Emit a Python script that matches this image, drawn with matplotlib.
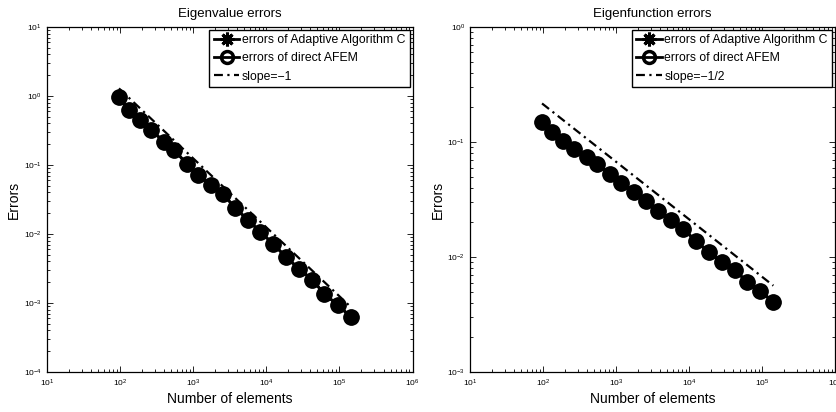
import math

import matplotlib
matplotlib.use('Agg')
import matplotlib.pyplot as plt
from matplotlib.ticker import LogLocator, FuncFormatter, NullFormatter

plt.rcParams['font.family'] = ['Liberation Sans', 'DejaVu Sans']
plt.rcParams['mathtext.default'] = 'regular'

# Number of elements at each adaptive step (shared by both panels).
n_elements = [97, 132, 187, 270, 400, 555, 820, 1160, 1750, 2550,
              3780, 5600, 8300, 12500, 18500, 28350, 42700, 62200, 95000, 143000]

# Eigenvalue errors.
eigval_alg_c = [0.97, 0.63, 0.449, 0.321, 0.216, 0.165, 0.103, 0.0716, 0.0513, 0.038,
                0.0238, 0.0160, 0.0107, 0.00716, 0.00464, 0.00311, 0.00216, 0.00135,
                0.000935, 0.000627]
eigval_direct = [0.97, 0.63, 0.449, 0.321, 0.216, 0.165, 0.103, 0.0716, 0.0513, 0.038,
                 0.0238, 0.0160, 0.0107, 0.00716, 0.00464, 0.00311, 0.00216, 0.00135,
                 0.000935, 0.000627]

# Eigenfunction errors.
eigfun_alg_c = [0.149, 0.122, 0.102, 0.0869, 0.0741, 0.0644, 0.0527, 0.0440, 0.0367,
                0.0307, 0.0251, 0.0210, 0.0175, 0.0138, 0.0110, 0.00905, 0.00771,
                0.00607, 0.00506, 0.00406]
eigfun_direct = [0.149, 0.122, 0.102, 0.0869, 0.0741, 0.0644, 0.0527, 0.0440, 0.0367,
                 0.0307, 0.0251, 0.0210, 0.0175, 0.0138, 0.0110, 0.00905, 0.00771,
                 0.00607, 0.00506, 0.00406]

# Reference slopes: c * N^p.
eigval_slope = (125.0, -1.0)
eigfun_slope = (2.13, -0.5)

legend_labels = ['errors of Adaptive Algorithm C', 'errors of direct AFEM']

# MATLAB-like '*' marker: four crossing strokes.
ASTERISK = (8, 2, 0)


def pow10(v, pos):
    return r'$10^{%d}$' % round(math.log10(v))


def plot_panel(ax, alg_c, direct, slope, slope_label, title, ylim):
    c, p = slope
    ref = [c * n ** p for n in n_elements]

    ax.plot(n_elements, alg_c, color='black', linewidth=2, marker=ASTERISK,
            markersize=11, markeredgewidth=2.2, label=legend_labels[0])
    ax.plot(n_elements, direct, color='black', linewidth=2, marker='o',
            markersize=9.5, markerfacecolor='none', markeredgewidth=2.5,
            label=legend_labels[1])
    ax.plot(n_elements, ref, color='black', linewidth=1.6,
            linestyle=(0, (4, 2, 1, 2)), label=slope_label)

    ax.set_xscale('log')
    ax.set_yscale('log')
    ax.set_xlim(10, 1e6)
    ax.set_ylim(*ylim)

    for axis in (ax.xaxis, ax.yaxis):
        axis.set_major_locator(LogLocator(base=10, numticks=20))
        axis.set_minor_locator(LogLocator(base=10, subs=range(2, 10), numticks=20))
        axis.set_major_formatter(FuncFormatter(pow10))
        axis.set_minor_formatter(NullFormatter())
    ax.tick_params(which='both', direction='in', top=True, right=True,
                   labelsize=6, width=0.6, color='black')
    ax.tick_params(which='major', length=4)
    ax.tick_params(which='minor', length=2)
    ax.tick_params(axis='x', pad=4)
    for side in ax.spines.values():
        side.set_linewidth(0.9)

    ax.set_title(title, fontsize=9.5, pad=7)
    ax.set_xlabel('Number of elements', fontsize=10, labelpad=2)
    ax.set_ylabel('Errors', fontsize=10, labelpad=2)

    leg = ax.legend(loc='upper right', fontsize=8.8, handlelength=2.1,
                    handletextpad=0.2, borderpad=0.35, labelspacing=0.5,
                    borderaxespad=0.25, fancybox=False, framealpha=1,
                    markerscale=0.9)
    leg.get_frame().set_edgecolor('black')
    leg.get_frame().set_linewidth(1.0)


def plot():
    fig = plt.figure(figsize=(8.36, 4.12), dpi=100)
    ax1 = fig.add_axes([0.0559, 0.0971, 0.4377, 0.8374])
    ax2 = fig.add_axes([0.5622, 0.0971, 0.4366, 0.8374])

    plot_panel(ax1, eigval_alg_c, eigval_direct, eigval_slope, 'slope=\u22121',
               'Eigenvalue errors', (1e-4, 10))
    plot_panel(ax2, eigfun_alg_c, eigfun_direct, eigfun_slope, 'slope=\u22121/2',
               'Eigenfunction errors', (1e-3, 1))

    fig.savefig('out.png', dpi=100)


if __name__ == '__main__':
    plot()
